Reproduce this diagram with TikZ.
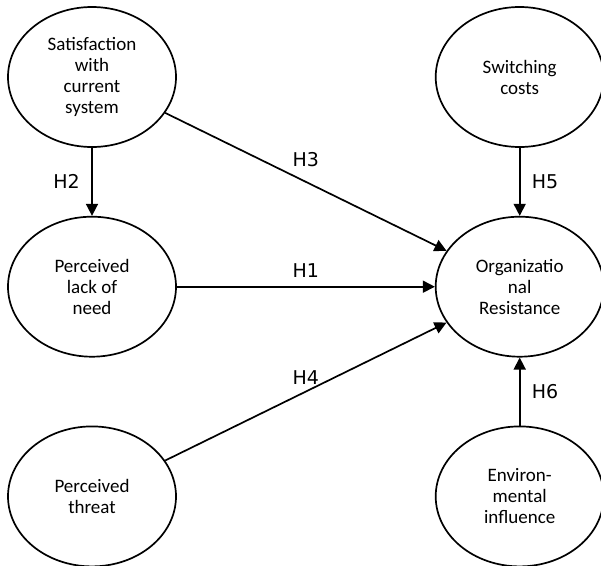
\documentclass[tikz,border=0pt]{standalone}
\usepackage{fontspec}
\setmainfont{Carlito}
\newfontfamily\hypfont{DejaVu Sans}
\usetikzlibrary{arrows.meta,positioning,shapes.geometric}
\tikzset{
  cons/.style={draw, ellipse, line width=1.7pt, minimum width=168pt, minimum height=140pt, inner sep=0pt, align=center, font=\fontsize{19}{21}\selectfont},
  arr/.style={-{Triangle[length=12pt,width=12pt]}, line width=1.7pt},
  hyp/.style={font=\hypfont\fontsize{19}{21}\selectfont},
}

\begin{document}
\begin{tikzpicture}[x=1pt,y=1pt,node distance=68pt and 258pt]
  \useasboundingbox (0,0) rectangle (601,-565);
  \node[cons] (sat) at (92,-77) {Satisfaction\\with\\current\\system};
  \node[cons, below=of sat] (lack) {Perceived\\lack of\\need};
  \node[cons, below=of lack] (thr) {Perceived\\threat};
  \node[cons, right=of lack] (res) {Organizatio\\nal\\Resistance};
  \node[cons, above=of res] (swc) {Switching\\costs};
  \node[cons, below=of res] (env) {Environ-\\mental\\influence};

  \draw[arr] (sat) -- node[hyp, left=8pt] {H2} (lack);
  \draw[arr] (sat) -- node[hyp, above=11pt] {H3} (res);
  \draw[arr] (lack) -- node[hyp, above=5pt] {H1} (res);
  \draw[arr] (thr) -- node[hyp, above=3pt] {H4} (res);
  \draw[arr] (swc) -- node[hyp, right=8pt] {H5} (res);
  \draw[arr] (env) -- node[hyp, right=8pt] {H6} (res);
\end{tikzpicture}
\end{document}
